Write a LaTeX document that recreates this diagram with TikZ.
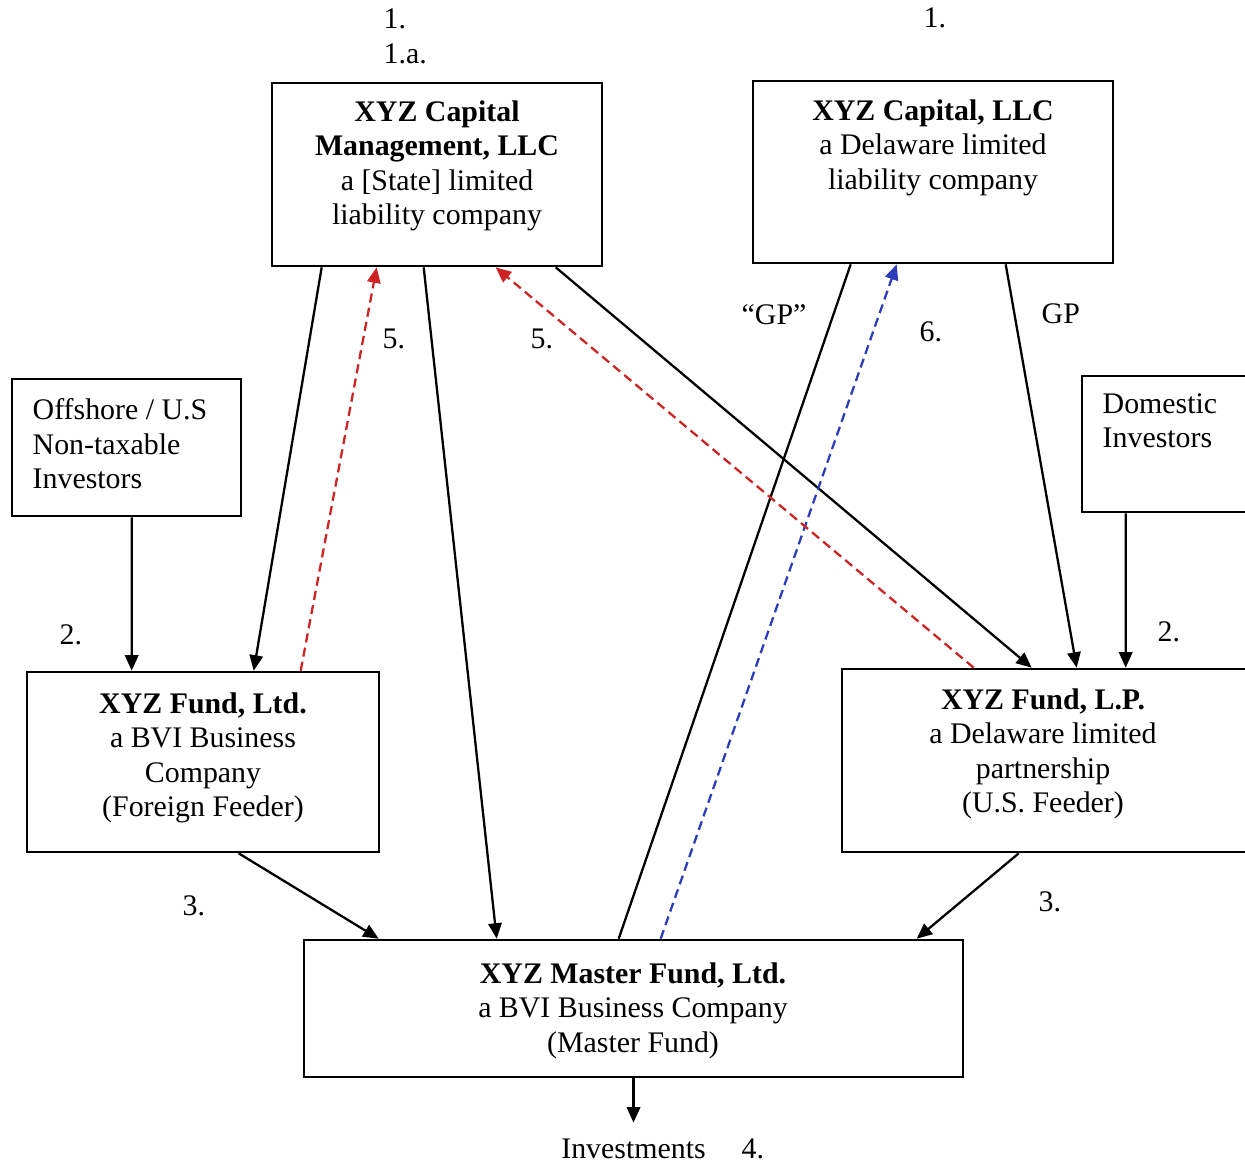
\documentclass[tikz,border=0pt]{standalone}
\usepackage{fontspec}
\setmainfont{Liberation Serif}
\usetikzlibrary{arrows.meta}
\definecolor{feered}{RGB}{205,35,35}
\definecolor{feeblue}{RGB}{45,60,185}

\begin{document}
\begin{tikzpicture}[
  >={Triangle[length=4.4pt,width=3.8pt]},
  font=\fontsize{8.5}{9.8}\selectfont,
  entity/.style={draw,line width=0.75pt,inner sep=0pt},
  entitytext/.style={anchor=north,align=center,inner sep=0pt},
  flow/.style={->,line width=0.65pt},
  fee/.style={->,line width=0.65pt,dash pattern=on 2.6pt off 1.5pt},
  tag/.style={anchor=base west,inner sep=0pt}]
  \useasboundingbox (0,0) rectangle (12.45,-11.63);

  \node[entity,minimum width=3.30cm,minimum height=1.83cm] (cm) at (4.37,-1.745) {};
  \node[entity,minimum width=3.60cm,minimum height=1.82cm] (cap) at (9.33,-1.72) {};
  \node[entity,minimum width=2.29cm,minimum height=1.37cm] (off) at (1.265,-4.475) {};
  \node[entity,minimum width=1.70cm,minimum height=1.36cm] (dom) at (11.67,-4.44) {};
  \node[entity,minimum width=3.52cm,minimum height=1.80cm] (fltd) at (2.03,-7.62) {};
  \node[entity,minimum width=4.10cm,minimum height=1.83cm] (flp) at (10.47,-7.605) {};
  \node[entity,minimum width=6.59cm,minimum height=1.37cm] (mf) at (6.335,-10.085) {};

  \node[entitytext] (cmtext) at (4.37,-1.00) {\textbf{XYZ Capital}\\\textbf{Management, LLC}\\a [State] limited\\liability company};
  \node[entitytext] (captext) at (9.33,-0.99) {\textbf{XYZ Capital, LLC}\\a Delaware limited\\liability company};
  \node[entitytext,anchor=north west,align=left] (offtext) at (0.32,-3.98) {Offshore / U.S\\Non-taxable\\Investors};
  \node[entitytext,anchor=north west,align=left] (domtext) at (11.02,-3.93) {Domestic\\Investors};
  \node[entitytext] (fltdtext) at (2.03,-6.92) {\textbf{XYZ Fund, Ltd.}\\a BVI Business\\Company\\(Foreign Feeder)};
  \node[entitytext] (flptext) at (10.43,-6.88) {\textbf{XYZ Fund, L.P.}\\a Delaware limited\\partnership\\(U.S. Feeder)};
  \node[entitytext] (mftext) at (6.33,-9.62) {\textbf{XYZ Master Fund, Ltd.}\\a BVI Business Company\\(Master Fund)};
  \node[anchor=base,inner xsep=0pt,inner ysep=4.3pt] (inv) at (6.335,-11.58) {Investments};

  \node[tag] (n1a) at (3.83,-0.28) {1.};
  \node[tag] (n1b) at (3.83,-0.63) {1.a.};
  \node[tag] (n1c) at (9.23,-0.27) {1.};
  \node[tag] (n5a) at (3.82,-3.48) {5.};
  \node[tag] (n5b) at (5.30,-3.48) {5.};
  \node[tag] (gpq) at (7.41,-3.24) {``GP''};
  \node[tag] (n6) at (9.19,-3.41) {6.};
  \node[tag] (gp) at (10.41,-3.23) {GP};
  \node[tag] (n2a) at (0.59,-6.44) {2.};
  \node[tag] (n2b) at (11.57,-6.41) {2.};
  \node[tag] (n3a) at (1.82,-9.15) {3.};
  \node[tag] (n3b) at (10.38,-9.11) {3.};
  \node[tag] (n4) at (7.41,-11.58) {4.};

  \draw[flow] ([xshift=0.51cm]cm.south west) -- ([xshift=2.28cm]fltd.north west);
  \draw[flow] ([xshift=1.21cm]off.south west) -- ([xshift=1.06cm]fltd.north west);
  \draw[flow] ([xshift=1.53cm]cm.south west) -- ([xshift=1.94cm]mf.north west);
  \draw[flow] ([xshift=2.85cm]cm.south west) -- ([xshift=1.91cm]flp.north west);
  \draw[flow] ([xshift=2.54cm]cap.south west) -- ([xshift=2.36cm]flp.north west);
  \draw[flow] ([xshift=0.45cm]dom.south west) -- ([xshift=2.85cm]flp.north west);
  \draw[line width=0.65pt] ([xshift=3.16cm]mf.north west) -- ([xshift=0.99cm]cap.south west);
  \draw[fee,feeblue] ([xshift=3.58cm]mf.north west) -- ([xshift=1.45cm]cap.south west);
  \draw[fee,feered] ([xshift=2.75cm]fltd.north west) -- ([xshift=1.06cm]cm.south west);
  \draw[fee,feered] ([xshift=1.33cm]flp.north west) -- ([xshift=2.25cm]cm.south west);
  \draw[flow] ([xshift=2.13cm]fltd.south west) -- ([xshift=0.76cm]mf.north west);
  \draw[flow] ([xshift=1.78cm]flp.south west) -- ([xshift=6.14cm]mf.north west);
  \draw[flow] (mf.south) -- (inv.north);
\end{tikzpicture}
\end{document}
